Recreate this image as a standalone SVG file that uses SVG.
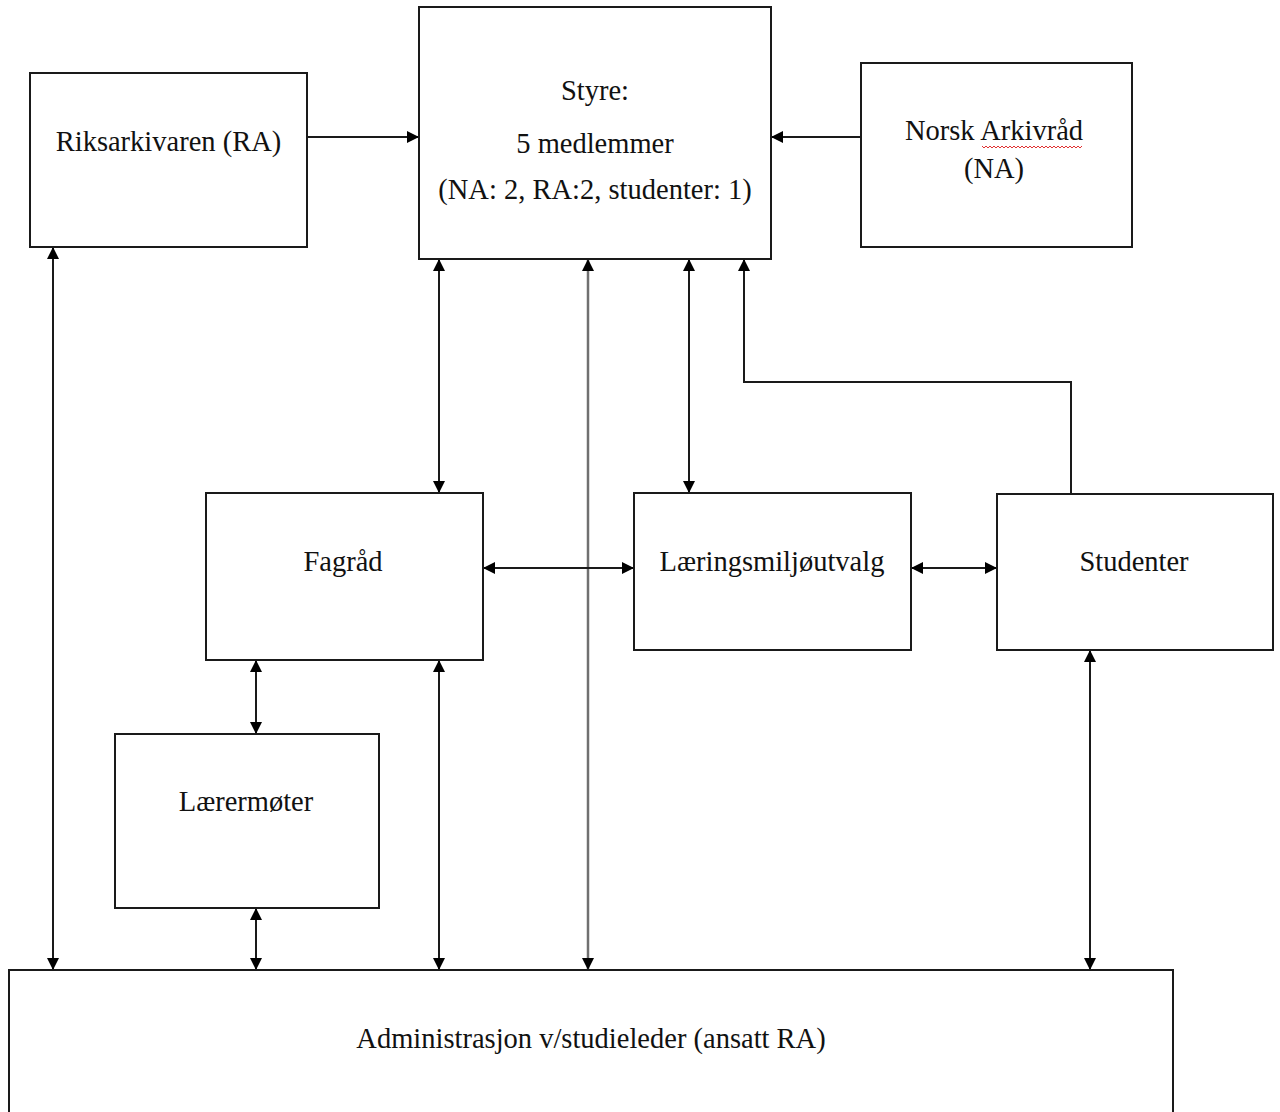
<svg xmlns="http://www.w3.org/2000/svg" width="1280" height="1112" viewBox="0 0 1280 1112">
<style>
.box{fill:#fff;stroke:#1a1a1a;stroke-width:2}
.lbl{font-family:"Liberation Serif","Times New Roman",serif;font-size:28.5px;fill:#111;text-anchor:middle}
.con{fill:none;stroke:#1a1a1a;stroke-width:2}
.grey{stroke:#707070;stroke-width:2.5}
</style>
<defs>
<marker id="ah" viewBox="0 0 12 12" refX="12" refY="6" markerWidth="12" markerHeight="12" markerUnits="userSpaceOnUse" orient="auto-start-reverse">
<path d="M0,0 L12,6 L0,12 z" fill="#000"/>
</marker>
</defs>
<rect width="1280" height="1112" fill="#fff"/>

<g id="connectors">
<line class="con" x1="307" y1="137" x2="419" y2="137" marker-end="url(#ah)"/>
<line class="con" x1="861" y1="137" x2="771" y2="137" marker-end="url(#ah)"/>
<line class="con" x1="53" y1="247" x2="53" y2="970" marker-start="url(#ah)" marker-end="url(#ah)"/>
<line class="con" x1="439" y1="259" x2="439" y2="493" marker-start="url(#ah)" marker-end="url(#ah)"/>
<line class="con grey" x1="588" y1="259" x2="588" y2="970" marker-start="url(#ah)" marker-end="url(#ah)"/>
<line class="con" x1="689" y1="259" x2="689" y2="493" marker-start="url(#ah)" marker-end="url(#ah)"/>
<polyline class="con" points="1071,494 1071,382 744,382 744,259" marker-end="url(#ah)"/>
<line class="con" x1="483" y1="568" x2="634" y2="568" marker-start="url(#ah)" marker-end="url(#ah)"/>
<line class="con" x1="911" y1="568" x2="997" y2="568" marker-start="url(#ah)" marker-end="url(#ah)"/>
<line class="con" x1="256" y1="660" x2="256" y2="734" marker-start="url(#ah)" marker-end="url(#ah)"/>
<line class="con" x1="256" y1="908" x2="256" y2="970" marker-start="url(#ah)" marker-end="url(#ah)"/>
<line class="con" x1="439" y1="660" x2="439" y2="970" marker-start="url(#ah)" marker-end="url(#ah)"/>
<line class="con" x1="1090" y1="650" x2="1090" y2="970" marker-start="url(#ah)" marker-end="url(#ah)"/>
</g>

<g id="riksarkivaren">
<rect class="box" x="30" y="73" width="277" height="174"/>
<text class="lbl" x="168.5" y="151">Riksarkivaren (RA)</text>
</g>

<g id="styre">
<rect class="box" x="419" y="7" width="352" height="252"/>
<text class="lbl" x="595" y="100">Styre:</text>
<text class="lbl" x="595" y="153">5 medlemmer</text>
<text class="lbl" x="595" y="199">(NA: 2, RA:2, studenter: 1)</text>
</g>

<g id="norsk-arkivraad">
<rect class="box" x="861" y="63" width="271" height="184"/>
<text class="lbl" x="994" y="140">Norsk Arkivråd</text>
<polyline points="982,146 984,148 986,146 988,148 990,146 992,148 994,146 996,148 998,146 1000,148 1002,146 1004,148 1006,146 1008,148 1010,146 1012,148 1014,146 1016,148 1018,146 1020,148 1022,146 1024,148 1026,146 1028,148 1030,146 1032,148 1034,146 1036,148 1038,146 1040,148 1042,146 1044,148 1046,146 1048,148 1050,146 1052,148 1054,146 1056,148 1058,146 1060,148 1062,146 1064,148 1066,146 1068,148 1070,146 1072,148 1074,146 1076,148 1078,146 1080,148 1082,146" fill="none" stroke="#e03030" stroke-width="1"/>
<text class="lbl" x="994" y="178">(NA)</text>
</g>

<g id="fagraad">
<rect class="box" x="206" y="493" width="277" height="167"/>
<text class="lbl" x="343" y="571">Fagråd</text>
</g>

<g id="laeringsmiljoutvalg">
<rect class="box" x="634" y="493" width="277" height="157"/>
<text class="lbl" x="772" y="571">Læringsmiljøutvalg</text>
</g>

<g id="studenter">
<rect class="box" x="997" y="494" width="276" height="156"/>
<text class="lbl" x="1134" y="571">Studenter</text>
</g>

<g id="laerermoter">
<rect class="box" x="115" y="734" width="264" height="174"/>
<text class="lbl" x="246" y="811">Lærermøter</text>
</g>

<g id="administrasjon">
<rect class="box" x="9" y="970" width="1164" height="200"/>
<text class="lbl" x="591" y="1048">Administrasjon v/studieleder (ansatt RA)</text>
</g>
</svg>
